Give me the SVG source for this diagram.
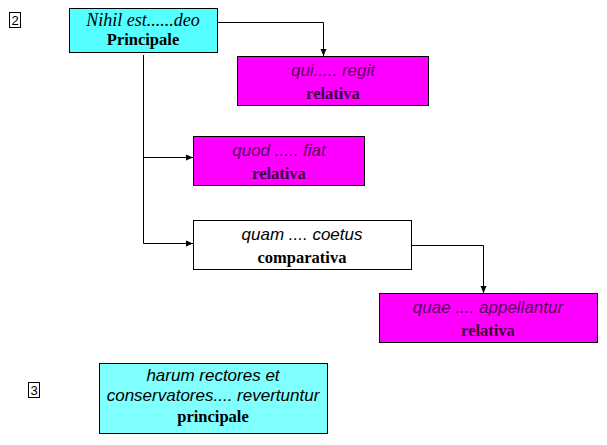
<svg xmlns="http://www.w3.org/2000/svg" width="607" height="445" viewBox="0 0 607 445">
<defs>
<marker id="ar" markerWidth="8" markerHeight="8" refX="7" refY="4" orient="auto" markerUnits="userSpaceOnUse">
<path d="M0,1 L7,4 L0,7 Z" fill="#000"/>
</marker>
<style>
.box{stroke:#000;stroke-width:1}
.it{font-family:"Liberation Sans",Arial,sans-serif;font-style:italic;font-size:17px;text-anchor:middle;fill:#000}
.itp{font-family:"Liberation Sans",Arial,sans-serif;font-style:italic;font-size:17px;text-anchor:middle;fill:#5a005a}
.itr{font-family:"Liberation Serif","Times New Roman",serif;font-style:italic;font-size:18px;text-anchor:middle;fill:#000}
.b{font-family:"Liberation Serif","Times New Roman",serif;font-weight:bold;font-size:16.5px;text-anchor:middle;fill:#000}
.bp{font-family:"Liberation Serif","Times New Roman",serif;font-weight:bold;font-size:16.5px;text-anchor:middle;fill:#3a003a}
.num{font-family:"Liberation Sans",Arial,sans-serif;font-size:13px;text-anchor:middle;fill:#000}
.ln{fill:none;stroke:#000;stroke-width:1}
</style>
</defs>
<rect width="607" height="445" fill="#fff"/>
<g id="label2"><rect x="9.5" y="12.5" width="11" height="15" fill="#fff" class="box"/><text x="15" y="25" class="num">2</text></g>
<g id="label3"><rect x="28.5" y="382.5" width="11" height="15" fill="#fff" class="box"/><text x="34" y="395" class="num">3</text></g>
<g id="connectors">
<path class="ln" d="M217,22.5 H323.5 V56" marker-end="url(#ar)"/>
<path class="ln" d="M143.5,55 V243.5"/>
<path class="ln" d="M143.5,157.5 H193" marker-end="url(#ar)"/>
<path class="ln" d="M143.5,243.5 H193" marker-end="url(#ar)"/>
<path class="ln" d="M411,245.5 H483.5 V293" marker-end="url(#ar)"/>
</g>
<g id="n1"><rect x="69.5" y="8.5" width="148" height="44" fill="#55ffff" class="box"/><text x="143" y="26" class="itr">Nihil est......deo</text><text x="143" y="45" class="b">Principale</text></g>
<g id="n2"><rect x="237.5" y="56.5" width="191" height="49" fill="#ff00ff" class="box"/><text x="333" y="76" class="itp">qui..... regit</text><text x="333" y="99" class="bp">relativa</text></g>
<g id="n3"><rect x="193.5" y="136.5" width="171" height="49" fill="#ff00ff" class="box"/><text x="279" y="156" class="itp">quod ..... fiat</text><text x="279" y="179" class="bp">relativa</text></g>
<g id="n4"><rect x="193.5" y="220.5" width="218" height="49" fill="#ffffff" class="box"/><text x="302" y="240" class="it">quam  .... coetus</text><text x="302" y="263" class="b">comparativa</text></g>
<g id="n5"><rect x="379.5" y="293.5" width="218" height="49" fill="#ff00ff" class="box"/><text x="488" y="313" class="itp">quae  .... appellantur</text><text x="488" y="336" class="bp">relativa</text></g>
<g id="n6"><rect x="99.5" y="363.5" width="228" height="70" fill="#80ffff" class="box"/><text x="213" y="381" class="it">harum rectores et</text><text x="213" y="401" class="it">conservatores.... revertuntur</text><text x="213" y="422" class="b">principale</text></g>
</svg>
